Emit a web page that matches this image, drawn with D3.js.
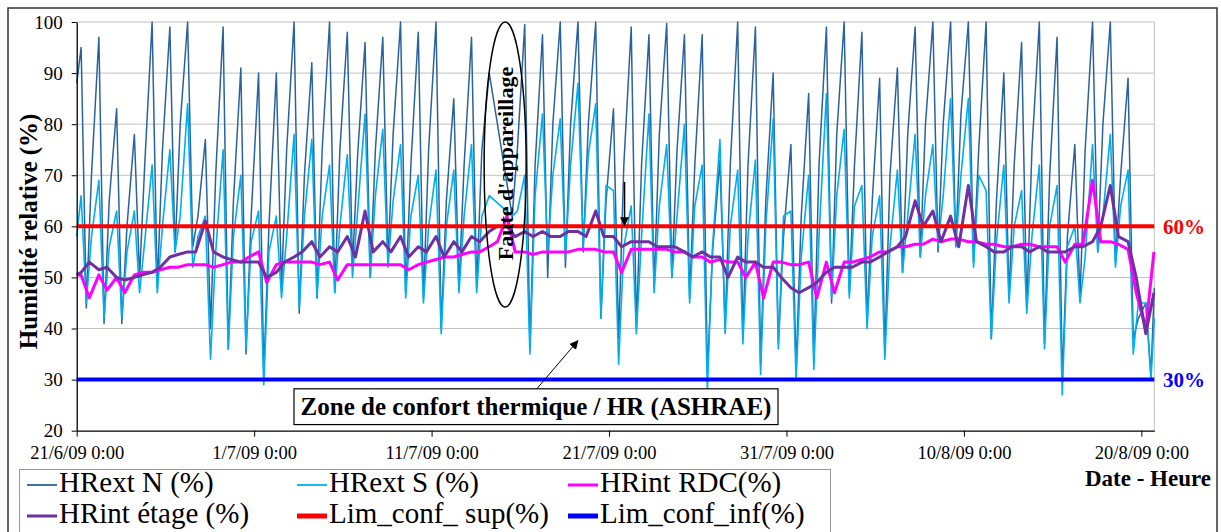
<!DOCTYPE html>
<html>
<head>
<meta charset="utf-8">
<script src="https://cdn.jsdelivr.net/npm/d3@7"></script>
<style>
  body { margin: 0; background: #fff; }
  svg, svg text { font-family: "Liberation Serif", "Times New Roman", serif; }
  svg { display: block; }
</style>
</head>
<body>
<svg id="chart" width="1221" height="532"></svg>
<script>
// ── Data (one value per day) ───────────────────────────────────────
// outside RH: morning maximum, afternoon minimum, evening value
const hrextNPeak = [95, 97, 83, 78, 100, 99, 100, 77, 99, 91,
    90, 90, 100, 92, 100, 98, 96, 97, 100, 98,
    100, 85, 97, 90, null, 99.5, 97.5, 100, 100, 100,
    83, 99, 97.5, 99.7, 97.5, 97.5, 73, 100, 99, 90,
    76, 86, 99, 100, 98, 89, 91, 99, 100, 100,
    100, 100, 90, 96, 100, 97, 76, 100, 100, 89,
    45];
const hrextNLow = [44, 41, 41, 50, 48, 55, 56, 40, 36, 35,
    31, 48, 43, 46, 47, 52, 50, 53, 47, 46,
    40, 48, 48, null, 62, 36, 50, 52, 55, 42,
    38, 40, 48, 50, 46, 31, 40, 38, 33, 37,
    32, 34, 45, 47, 41, 35, 51, 54, 55, 56,
    53, 38, 46, 44, 37, 30, 46, 55, 53, 38,
    31];
const hrextNEve = [70, 65, 60, 72, 75, 80, 62, 70, 65, 62,
    60, 75, 70, 75, 75, 74, 75, 78, 72, 75,
    65, 72, 75, null, 75, 72, 80, 80, 80, 65,
    72, 72, 78, 75, 72, 55, 72, 72, 65, 58,
    62, 72, 78, 72, 65, 70, 78, 80, 80, 82,
    75, 65, 72, 75, 70, 58, 75, 80, 70, 42,
    null];
const hrextSPeak = [66, 69, 63, 63, 72, 75, 84, 62, 75, 70,
    63, 62, 78, 77, 72, 74, 82, 79, 76, 70,
    71, 71, 76, 66, null, 70, 82, 81, 88, 84,
    67, 64, 82, 76, 80, 72, 77, 71, 73, 81,
    63, 70, 86, 79, 68, 66, 71, 78, 76, 85,
    85, 67, 72, 67, 72, 68, 60, 76, 78, 71,
    45];
const hrextSLow = [45, 42, 42, 47, 47, 55, 52, 34, 36, 36,
    29, 46, 44, 46, 47, 50, 50, 52, 46, 45,
    39, 47, 47, null, 62, 35, 55, 54, 56, 42,
    33, 39, 47, 50, 45, 28, 39, 37, 31, 36,
    30, 32, 46, 46, 40, 34, 51, 54, 56, 56,
    52, 38, 45, 43, 36, 27, 45, 55, 52, 35,
    30];
const hrextSEve = [58, 56, 55, 57, 60, 62, 58, 55, 58, 57,
    55, 58, 62, 62, 60, 63, 66, 65, 62, 60,
    60, 62, 62, null, 63, 66, 70, 72, 74, 68,
    56, 58, 64, 62, 64, 56, 60, 58, 60, 62,
    54, 58, 66, 64, 58, 56, 62, 66, 66, 70,
    70, 57, 60, 58, 60, 56, 54, 62, 64, 45,
    null];
// inside RH: morning and evening values
const rdcAM = [50.5, 50.5, 50, 50.5, 51, 52, 52.5, 52.5, 52.5, 53,
    55, 52.5, 53, 53, 53, 52.5, 52.5, 52.5, 52.5, 52.5,
    53.5, 54, 55, 56, 62, 55, 55, 55, 55.5, 55.5,
    55, 55.5, 55.5, 55.5, 55, 54, 53.5, 53, 53, 53,
    52.5, 53, 53, 53, 53.5, 55, 56, 56.5, 57.5, 57.5,
    57, 56.5, 56, 56.5, 56, 56, 56.5, 69, 57, 55.5,
    40];
const rdcPM = [46, 47.5, 47, 51, 51.5, 52, 52.5, 52, 53, 54,
    49, 53, 53, 52.5, 49.5, 52.5, 52.5, 52.5, 51.5, 53,
    54, 54.5, 55, 57, 55, 54.5, 55, 55, 55.5, 55,
    51, 55.5, 55.5, 55, 54, 53, 53, 50, 46, 53,
    52.5, 46, 47, 53, 54, 55, 56, 56.5, 57, 57.5,
    57, 56.5, 56, 56.5, 56, 53, 56.5, 57, 56.5, 47,
    55];
const etageAM = [51, 51.5, 50, 50, 51, 54, 55, 61, 54, 53,
    53, 51, 54, 57, 56, 58, 63, 57, 58, 56,
    58, 57, 58, 59, 60, 59, 59, 58, 59, 63,
    58, 57, 57, 56, 55, 55, 54, 54, 53, 52,
    48, 48, 51, 52, 53, 54, 56, 65, 63, 62,
    68, 56, 55, 56, 56, 55, 56, 57, 68, 57,
    39];
const etagePM = [53, 52, 49.5, 50.5, 52, 54.5, 55, 55, 53.5, 53,
    50, 53, 55, 54, 55, 54, 55, 55, 54, 55,
    54, 55, 57, 60, 58, 58, 58, 59, 58, 58,
    56, 57, 56, 56, 54, 54, 50, 53, 52, 50,
    47, 49, 52, 52, 53, 55, 58, 60, 57, 56,
    57, 55, 56, 55, 55, 55, 56, 60, 58, 50,
    47];
// first reading (21/6 0:00) and last reading of each series
const firstValues = { n: 88, s: 58, rdc: 50.5, etage: 50.5 };
const lastValues  = { n: 48, s: 42 };

const limSup = 60;
const limInf = 30;

const startDate = "2009-06-21T00:00";
const endDate   = "2009-08-20T17:30";
const tickDates = ["2009-06-21", "2009-07-01", "2009-07-11", "2009-07-21",
                   "2009-07-31", "2009-08-10", "2009-08-20"];
const yTicks = [20, 30, 40, 50, 60, 70, 80, 90, 100];

const legendItems = [
    { label: "HRext N (%)",      color: "#2A639B", w: 1.5 },
    { label: "HRext S (%)",      color: "#00AEEF", w: 1.6 },
    { label: "HRint RDC(%)",     color: "#FF00FF", w: 3 },
    { label: "HRint étage (%)",  color: "#7030A0", w: 3 },
    { label: "Lim_conf_ sup(%)", color: "#FF0000", w: 4.5 },
    { label: "Lim_conf_inf(%)",  color: "#0000FF", w: 4.5 }
];

// ── Build the time series ──────────────────────────────────────────
const DAY = 864e5, HOUR = 36e5;
const t0 = Date.UTC(2009, 5, 21);
const at = (d, h) => new Date(t0 + d * DAY + h * HOUR);
const PEAK_H = 6, LOW_H = 13, EVE_H = 20, AM_H = 6, PM_H = 17;

function extSeries(first, peaks, lows, eves, last) {
    const pts = [{ t: at(0, 0), v: first }];
    peaks.forEach((p, i) => {
        if (p != null) pts.push({ t: at(i, PEAK_H), v: p });
        if (lows[i] != null) pts.push({ t: at(i, LOW_H), v: lows[i] });
        if (eves[i] != null) pts.push({ t: at(i, EVE_H), v: eves[i] });
    });
    pts.push({ t: at(60, 17.5), v: last });
    return pts;
}
function intSeries(first, am, pm) {
    const pts = [{ t: at(0, 0), v: first }];
    am.forEach((a, i) => {
        pts.push({ t: at(i, AM_H), v: a });
        pts.push({ t: at(i, PM_H), v: pm[i] });
    });
    return pts;
}

const series = [
    { data: extSeries(firstValues.n, hrextNPeak, hrextNLow, hrextNEve, lastValues.n), ...legendItems[0] },
    { data: extSeries(firstValues.s, hrextSPeak, hrextSLow, hrextSEve, lastValues.s), ...legendItems[1] },
    { data: intSeries(firstValues.rdc, rdcAM, rdcPM), ...legendItems[2] },
    { data: intSeries(firstValues.etage, etageAM, etagePM), ...legendItems[3] }
];

// ── Layout ─────────────────────────────────────────────────────────
const PL = 76.7, PR = 1154.3, PT = 22, PB = 430.7;

const x = d3.scaleUtc()
    .domain([new Date(startDate + "Z"), new Date(endDate + "Z")])
    .range([PL, PR]);
const y = d3.scaleLinear().domain([20, 100]).range([PB, PT]);

const svg = d3.select("#chart");

// outer frame
svg.append("rect")
    .attr("x", 8).attr("y", 8).attr("width", 1209).attr("height", 540)
    .attr("fill", "none").attr("stroke", "#333").attr("stroke-width", 1.5);

// gridlines + plot border
svg.append("g").selectAll("line")
    .data(yTicks.filter(v => v > 20))
    .join("line")
    .attr("x1", PL).attr("x2", PR)
    .attr("y1", d => y(d)).attr("y2", d => y(d))
    .attr("stroke", "#C0C0C0").attr("stroke-width", 1);
svg.append("line")
    .attr("x1", PR).attr("x2", PR).attr("y1", PT).attr("y2", PB)
    .attr("stroke", "#C0C0C0").attr("stroke-width", 1);

// ── Series ─────────────────────────────────────────────────────────
const line = d3.line().x(d => x(d.t)).y(d => y(d.v));

svg.append("g").selectAll("path")
    .data(series)
    .join("path")
    .attr("d", d => line(d.data))
    .attr("fill", "none")
    .attr("stroke", d => d.color)
    .attr("stroke-width", d => d.w)
    .attr("stroke-linejoin", "round");

// comfort limits
[[limSup, legendItems[4]], [limInf, legendItems[5]]].forEach(([v, s]) => {
    svg.append("path")
        .attr("d", line([{ t: x.domain()[0], v }, { t: x.domain()[1], v }]))
        .attr("stroke", s.color).attr("stroke-width", 4).attr("fill", "none");
});

// ── Axes ───────────────────────────────────────────────────────────
const fmt = d3.utcFormat("%-d/%-m/%y %-H:%M");
const xAxis = svg.append("g")
    .attr("transform", `translate(0,${PB})`)
    .call(d3.axisBottom(x)
        .tickValues(tickDates.map(s => new Date(s + "T00:00Z")))
        .tickFormat(fmt).tickSize(6).tickPadding(9).tickSizeOuter(0));
xAxis.attr("font-family", null);
xAxis.select(".domain").attr("stroke", "#000").attr("stroke-width", 1.3);
xAxis.selectAll("text").attr("font-size", 18.5).attr("fill", "#000");

const yAxis = svg.append("g")
    .attr("transform", `translate(${PL},0)`)
    .call(d3.axisLeft(y).tickValues(yTicks).tickSize(5).tickPadding(9).tickSizeOuter(0));
yAxis.attr("font-family", null);
yAxis.select(".domain").attr("stroke", "#000").attr("stroke-width", 1.3);
yAxis.selectAll("text").attr("font-size", 19).attr("fill", "#000");

// axis titles
svg.append("text")
    .attr("transform", `translate(37,${(PT + PB) / 2 + 5}) rotate(-90)`)
    .attr("text-anchor", "middle")
    .attr("font-size", 25).attr("font-weight", "bold")
    .text("Humidité relative (%)");

svg.append("text")
    .attr("x", 1211).attr("y", 486)
    .attr("text-anchor", "end")
    .attr("font-size", 23).attr("font-weight", "bold")
    .text("Date - Heure");

// limit labels
svg.append("text")
    .attr("x", 1163).attr("y", y(limSup)).attr("dy", "0.35em")
    .attr("fill", "#FF0000").attr("font-size", 21).attr("font-weight", "bold")
    .text("60%");
svg.append("text")
    .attr("x", 1163).attr("y", y(limInf)).attr("dy", "0.35em")
    .attr("fill", "#0000FF").attr("font-size", 21).attr("font-weight", "bold")
    .text("30%");

// ── Annotations ────────────────────────────────────────────────────
const defs = svg.append("defs");
defs.append("marker")
    .attr("id", "arrow").attr("viewBox", "0 0 10 10")
    .attr("refX", 9).attr("refY", 5)
    .attr("markerWidth", 9).attr("markerHeight", 9)
    .attr("markerUnits", "userSpaceOnUse")
    .attr("orient", "auto")
    .append("path").attr("d", "M0,0 L10,5 L0,10 Z").attr("fill", "#000");

// instrument fault ellipse
const faultX = x(at(24, 3.5));
svg.append("ellipse")
    .attr("cx", faultX).attr("cy", y(72.1))
    .attr("rx", 21).attr("ry", (y(44.2) - y(100)) / 2)
    .attr("fill", "none").attr("stroke", "#000").attr("stroke-width", 1.5);
svg.append("text")
    .attr("transform", `translate(${faultX},${y(72.3)}) rotate(-90)`)
    .attr("text-anchor", "middle").attr("dy", "0.36em")
    .attr("font-size", 22).attr("font-weight", "bold")
    .text("Faute d'appareillage");

// small arrow pointing to the upper limit
svg.append("line")
    .attr("x1", x(at(30, 21))).attr("x2", x(at(30, 21)))
    .attr("y1", y(68.7)).attr("y2", y(60.2))
    .attr("stroke", "#000").attr("stroke-width", 1.5)
    .attr("marker-end", "url(#arrow)");

// comfort zone label box + arrow
svg.append("line")
    .attr("x1", x(at(25, 22.3))).attr("y1", y(28.2))
    .attr("x2", x(at(28, 5.8))).attr("y2", y(37.6))
    .attr("stroke", "#000").attr("stroke-width", 1)
    .attr("marker-end", "url(#arrow)");
svg.append("rect")
    .attr("x", 294).attr("y", y(28.2))
    .attr("width", 484).attr("height", y(21.2) - y(28.2))
    .attr("fill", "#fff").attr("stroke", "#000").attr("stroke-width", 1.2);
svg.append("text")
    .attr("x", 536).attr("y", 415)
    .attr("text-anchor", "middle")
    .attr("font-size", 25).attr("font-weight", "bold")
    .text("Zone de confort thermique / HR (ASHRAE)");

// ── Legend ─────────────────────────────────────────────────────────
svg.append("rect")
    .attr("x", 19.5).attr("y", 469.5).attr("width", 811).attr("height", 80)
    .attr("fill", "#fff").attr("stroke", "#999").attr("stroke-width", 1);

const colX = [27, 297, 568];
const rowY = [485, 516];
legendItems.forEach((d, i) => {
    const cx = colX[i % 3], cy = rowY[Math.floor(i / 3)];
    svg.append("line")
        .attr("x1", cx).attr("x2", cx + 30).attr("y1", cy).attr("y2", cy)
        .attr("stroke", d.color).attr("stroke-width", i >= 4 ? 5 : (i >= 2 ? 3 : 1.8));
    svg.append("text")
        .attr("x", cx + 32).attr("y", cy + 7)
        .attr("font-size", 29)
        .text(d.label);
});
</script>
</body>
</html>
